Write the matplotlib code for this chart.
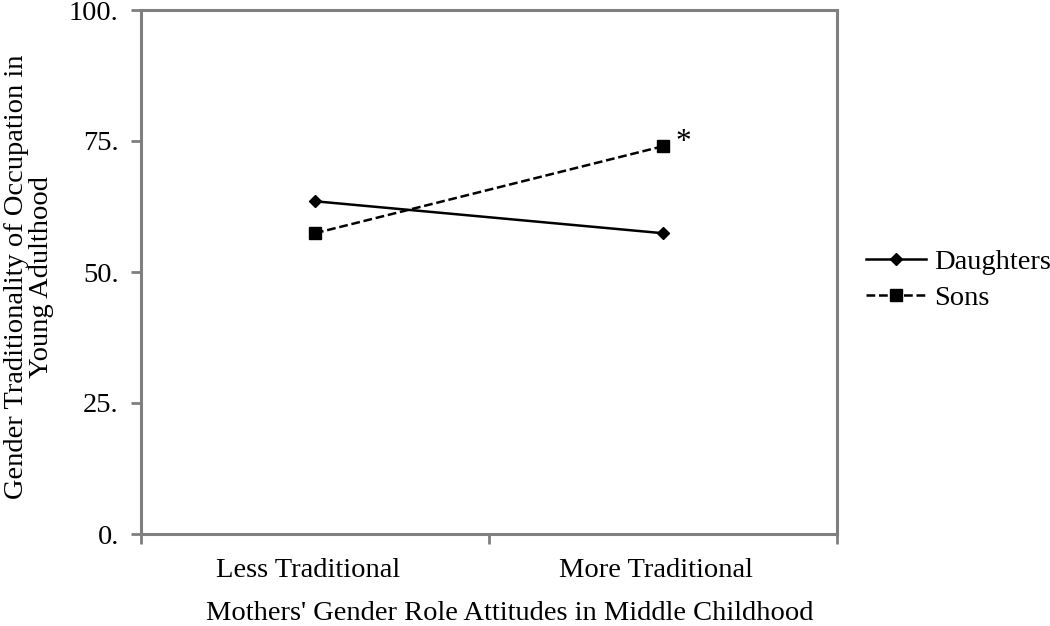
import matplotlib
matplotlib.use("Agg")
import matplotlib.pyplot as plt
import matplotlib.transforms as mtransforms
from matplotlib.ticker import FixedLocator, NullFormatter

categories = ["Less Traditional", "More Traditional"]
daughters = [63.5, 57.4]
sons = [57.4, 74.0]
yticks = [0, 25, 50, 75, 100]
ytick_labels = ["0.", "25.", "50.", "75.", "100."]

plt.rcParams['font.family'] = ['Liberation Serif', 'DejaVu Serif']
fs = 20.5
grey = '#7f7f7f'

fig = plt.figure(figsize=(10.5, 6.26), dpi=100)
ax = fig.add_axes([141/1050, 1-534/626, (837-141)/1050, (534-10)/626])

x = [0.5, 1.5]
ax.plot(x, daughters, color='black', lw=1.8, marker='D', ms=6.5, label='Daughters')
ax.plot(x, sons, color='black', lw=1.8, ls=(0, (3.5, 1.5)), marker='s', ms=8, label='Sons')
ax.annotate('*', xy=(x[1], sons[1]), xytext=(9, 3), textcoords='offset points',
            fontsize=fs + 2, ha='left', va='center')

ax.set_xlim(0, 2)
ax.set_ylim(0, 100)
ax.set_yticks(yticks)
ax.set_yticklabels(ytick_labels, fontsize=fs)
ax.xaxis.set_major_locator(FixedLocator([0, 1, 2]))
ax.xaxis.set_major_formatter(NullFormatter())
ax.xaxis.set_minor_locator(FixedLocator(x))
ax.set_xticklabels(categories, minor=True, fontsize=fs)
ax.tick_params(axis='x', which='minor', length=0, pad=17)
ax.tick_params(axis='x', which='major', length=7, width=2, color=grey, direction='out')
ax.tick_params(axis='y', length=7, width=2, color=grey, direction='out', pad=9)
shift = mtransforms.ScaledTranslation(-7/100, 0, fig.dpi_scale_trans)
for lab in ax.xaxis.get_minorticklabels():
    lab.set_transform(lab.get_transform() + shift)
for s in ax.spines.values():
    s.set_color(grey)
    s.set_linewidth(2.2)

ax.set_xlabel("Mothers' Gender Role Attitudes in Middle Childhood", fontsize=fs)
ax.xaxis.set_label_coords((510-141)/696, -(601-534)/524)
ax.set_ylabel("Gender Traditionality of Occupation in\nYoung Adulthood", fontsize=fs,
              linespacing=1.0)
ax.yaxis.set_label_coords(-0.125, 0.49)

leg = ax.legend(loc='center left', bbox_to_anchor=((866-141)/696, (534-280)/524), frameon=False,
                fontsize=fs, handlelength=2.1, handletextpad=0.3, labelspacing=0.37,
                borderpad=0, borderaxespad=0)

fig.savefig("out.png", dpi=100)
